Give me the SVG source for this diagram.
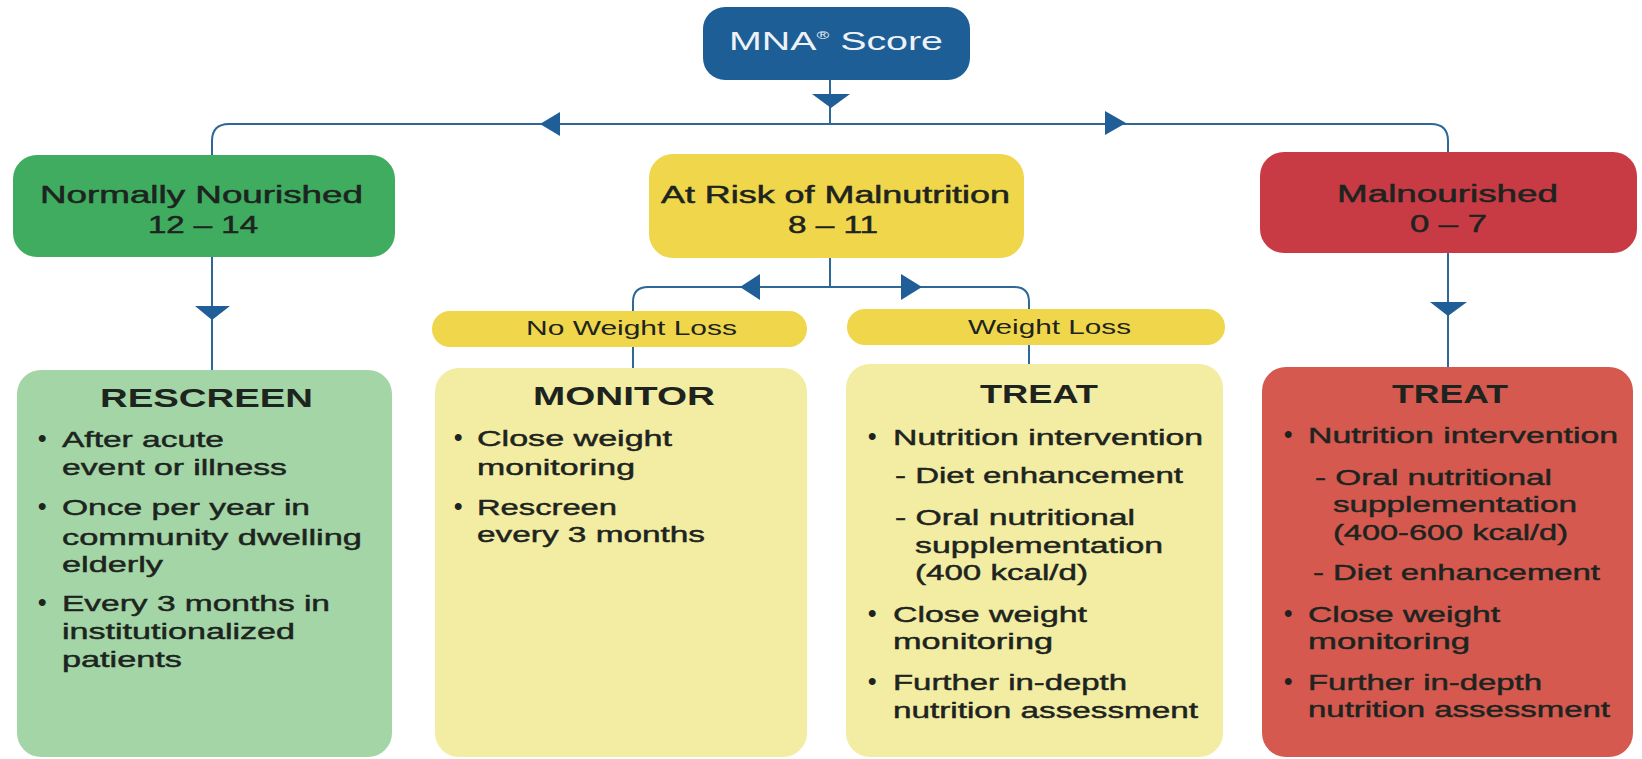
<svg xmlns="http://www.w3.org/2000/svg" width="1642" height="759" viewBox="0 0 1642 759">
<style>
text { font-family: "Liberation Sans", Arial, sans-serif; fill: #1d2420; }
.lab { font-size: 23px; stroke: #1d2420; stroke-width: 0.5; }
.hd { font-size: 25px; font-weight: bold; }
.bd { font-size: 22px; stroke: #1d2420; stroke-width: 0.45; }
.bu { font-size: 24px; font-weight: bold; }
.pl { font-size: 20px; }
.conn { fill: none; stroke: #2f6797; stroke-width: 2; }
.arr { fill: #1f5e96; }
.mna { fill: #1d5e96; }
.g1 { fill: #3fac60; }
.g2 { fill: #a3d5a6; }
.y1 { fill: #f0d64a; }
.y2 { fill: #f3eca3; }
.r1 { fill: #c83b45; }
.r2 { fill: #d5594f; }
</style>
<rect width="1642" height="759" fill="#ffffff"/>
<g id="connectors">
  <path class="conn" d="M830,80 V124"/>
  <path class="conn" d="M212,160 V141 Q212,124 229,124 H1431 Q1448,124 1448,141 V160"/>
  <path class="conn" d="M212,255 V372"/>
  <path class="conn" d="M1448,250 V370"/>
  <path class="conn" d="M830,255 V287"/>
  <path class="conn" d="M633,370 V302 Q633,287 648,287 H1014 Q1029,287 1029,302 V366"/>
  <polygon class="arr" points="812,94 850,94 831,108"/>
  <polygon class="arr" points="540,124 560,112 560,136"/>
  <polygon class="arr" points="1126,123 1105,111 1105,135"/>
  <polygon class="arr" points="195,306 230,306 212,320"/>
  <polygon class="arr" points="1430,302 1467,302 1448,316"/>
  <polygon class="arr" points="740,287 760,274 760,300"/>
  <polygon class="arr" points="922,287 901,274 901,300"/>
</g>
<g id="mna-score">
  <rect class="mna" x="703" y="7" width="267" height="73" rx="22"/>
  <text x="729" y="50" font-size="25" textLength="214" lengthAdjust="spacingAndGlyphs" style="fill:#eef2f7">MNA<tspan font-size="11" dy="-11">®</tspan><tspan dy="11"> Score</tspan></text>
</g>
<g id="normally-nourished">
  <rect class="g1" x="13" y="155" width="382" height="102" rx="24"/>
  <text class="lab" x="40" y="203" textLength="323" lengthAdjust="spacingAndGlyphs">Normally Nourished</text>
  <text class="lab" x="148" y="233" textLength="110" lengthAdjust="spacingAndGlyphs">12 – 14</text>
</g>
<g id="at-risk">
  <rect class="y1" x="649" y="154" width="375" height="104" rx="24"/>
  <text class="lab" x="661" y="203" textLength="349" lengthAdjust="spacingAndGlyphs">At Risk of Malnutrition</text>
  <text class="lab" x="788" y="233" textLength="90" lengthAdjust="spacingAndGlyphs">8 – 11</text>
</g>
<g id="malnourished">
  <rect class="r1" x="1260" y="152" width="377" height="101" rx="24"/>
  <text class="lab" x="1337" y="202" textLength="221" lengthAdjust="spacingAndGlyphs">Malnourished</text>
  <text class="lab" x="1410" y="232" textLength="77" lengthAdjust="spacingAndGlyphs">0 – 7</text>
</g>
<g id="no-weight-loss">
  <rect class="y1" x="432" y="311" width="375" height="36" rx="18"/>
  <text class="pl" x="526" y="335" textLength="211" lengthAdjust="spacingAndGlyphs">No Weight Loss</text>
</g>
<g id="weight-loss">
  <rect class="y1" x="847" y="309" width="378" height="36" rx="18"/>
  <text class="pl" x="968" y="334" textLength="163" lengthAdjust="spacingAndGlyphs">Weight Loss</text>
</g>
<g id="rescreen">
  <rect class="g2" x="17" y="370" width="375" height="387" rx="24"/>
  <text class="hd" x="100" y="407" textLength="213" lengthAdjust="spacingAndGlyphs">RESCREEN</text>
  <text class="bu" x="38" y="446">•</text>
  <text class="bd" x="62" y="447" textLength="162" lengthAdjust="spacingAndGlyphs">After acute</text>
  <text class="bd" x="62" y="475" textLength="225" lengthAdjust="spacingAndGlyphs">event or illness</text>
  <text class="bu" x="38" y="514">•</text>
  <text class="bd" x="62" y="515" textLength="248" lengthAdjust="spacingAndGlyphs">Once per year in</text>
  <text class="bd" x="62" y="545" textLength="300" lengthAdjust="spacingAndGlyphs">community dwelling</text>
  <text class="bd" x="62" y="572" textLength="101" lengthAdjust="spacingAndGlyphs">elderly</text>
  <text class="bu" x="38" y="610">•</text>
  <text class="bd" x="62" y="611" textLength="268" lengthAdjust="spacingAndGlyphs">Every 3 months in</text>
  <text class="bd" x="62" y="639" textLength="233" lengthAdjust="spacingAndGlyphs">institutionalized</text>
  <text class="bd" x="62" y="667" textLength="120" lengthAdjust="spacingAndGlyphs">patients</text>
</g>
<g id="monitor">
  <rect class="y2" x="435" y="368" width="372" height="389" rx="24"/>
  <text class="hd" x="533" y="405" textLength="182" lengthAdjust="spacingAndGlyphs">MONITOR</text>
  <text class="bu" x="454" y="445">•</text>
  <text class="bd" x="477" y="446" textLength="195" lengthAdjust="spacingAndGlyphs">Close weight</text>
  <text class="bd" x="477" y="475" textLength="158" lengthAdjust="spacingAndGlyphs">monitoring</text>
  <text class="bu" x="454" y="514">•</text>
  <text class="bd" x="477" y="515" textLength="140" lengthAdjust="spacingAndGlyphs">Rescreen</text>
  <text class="bd" x="477" y="542" textLength="228" lengthAdjust="spacingAndGlyphs">every 3 months</text>
</g>
<g id="treat-weight-loss">
  <rect class="y2" x="846" y="364" width="377" height="393" rx="24"/>
  <text class="hd" x="980" y="403" textLength="118" lengthAdjust="spacingAndGlyphs">TREAT</text>
  <text class="bu" x="868" y="444">•</text>
  <text class="bd" x="893" y="445" textLength="310" lengthAdjust="spacingAndGlyphs">Nutrition intervention</text>
  <text class="bd" x="895" y="483" textLength="288" lengthAdjust="spacingAndGlyphs">- Diet enhancement</text>
  <text class="bd" x="895" y="525" textLength="240" lengthAdjust="spacingAndGlyphs">- Oral nutritional</text>
  <text class="bd" x="915" y="553" textLength="248" lengthAdjust="spacingAndGlyphs">supplementation</text>
  <text class="bd" x="915" y="580" textLength="173" lengthAdjust="spacingAndGlyphs">(400 kcal/d)</text>
  <text class="bu" x="868" y="621">•</text>
  <text class="bd" x="893" y="622" textLength="194" lengthAdjust="spacingAndGlyphs">Close weight</text>
  <text class="bd" x="893" y="649" textLength="160" lengthAdjust="spacingAndGlyphs">monitoring</text>
  <text class="bu" x="868" y="689">•</text>
  <text class="bd" x="893" y="690" textLength="234" lengthAdjust="spacingAndGlyphs">Further in-depth</text>
  <text class="bd" x="893" y="718" textLength="305" lengthAdjust="spacingAndGlyphs">nutrition assessment</text>
</g>
<g id="treat-malnourished">
  <rect class="r2" x="1262" y="367" width="371" height="390" rx="24"/>
  <text class="hd" x="1392" y="403" textLength="116" lengthAdjust="spacingAndGlyphs">TREAT</text>
  <text class="bu" x="1284" y="442">•</text>
  <text class="bd" x="1308" y="443" textLength="310" lengthAdjust="spacingAndGlyphs">Nutrition intervention</text>
  <text class="bd" x="1315" y="485" textLength="237" lengthAdjust="spacingAndGlyphs">- Oral nutritional</text>
  <text class="bd" x="1333" y="512" textLength="244" lengthAdjust="spacingAndGlyphs">supplementation</text>
  <text class="bd" x="1333" y="540" textLength="235" lengthAdjust="spacingAndGlyphs">(400-600 kcal/d)</text>
  <text class="bd" x="1313" y="580" textLength="287" lengthAdjust="spacingAndGlyphs">- Diet enhancement</text>
  <text class="bu" x="1284" y="621">•</text>
  <text class="bd" x="1308" y="622" textLength="192" lengthAdjust="spacingAndGlyphs">Close weight</text>
  <text class="bd" x="1308" y="649" textLength="162" lengthAdjust="spacingAndGlyphs">monitoring</text>
  <text class="bu" x="1284" y="689">•</text>
  <text class="bd" x="1308" y="690" textLength="234" lengthAdjust="spacingAndGlyphs">Further in-depth</text>
  <text class="bd" x="1308" y="717" textLength="302" lengthAdjust="spacingAndGlyphs">nutrition assessment</text>
</g>
</svg>
